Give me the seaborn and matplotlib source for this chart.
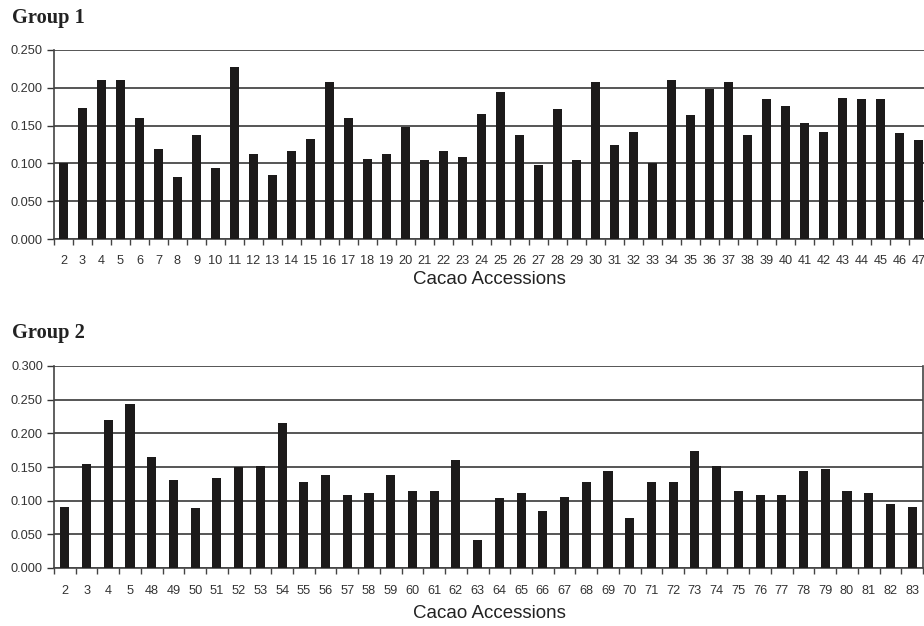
import matplotlib
matplotlib.use("Agg")
import matplotlib.pyplot as plt
import seaborn as sns
import pandas as pd

# Group 1 accessions and values
g1_labels = [str(i) for i in range(2, 48)]
g1_values = [0.101, 0.173, 0.210, 0.210, 0.160, 0.119, 0.082, 0.137, 0.094, 0.228,
             0.112, 0.084, 0.117, 0.132, 0.208, 0.160, 0.106, 0.113, 0.148, 0.104,
             0.117, 0.109, 0.166, 0.195, 0.137, 0.098, 0.172, 0.104, 0.208, 0.125,
             0.141, 0.101, 0.210, 0.164, 0.199, 0.208, 0.138, 0.185, 0.176, 0.153,
             0.141, 0.187, 0.185, 0.185, 0.140, 0.131]

# Group 2 accessions and values
g2_labels = ["2", "3", "4", "5"] + [str(i) for i in range(48, 84)]
g2_values = [0.091, 0.154, 0.220, 0.243, 0.165, 0.130, 0.089, 0.133, 0.150, 0.152,
             0.216, 0.127, 0.138, 0.109, 0.112, 0.138, 0.115, 0.115, 0.160, 0.042,
             0.104, 0.112, 0.085, 0.106, 0.128, 0.144, 0.074, 0.128, 0.127, 0.174,
             0.152, 0.114, 0.109, 0.109, 0.144, 0.147, 0.115, 0.112, 0.095, 0.091]

g1_yticks = [0.0, 0.05, 0.10, 0.15, 0.20, 0.25]
g2_yticks = [0.0, 0.05, 0.10, 0.15, 0.20, 0.25, 0.30]

sns.set_theme(style="white")
plt.rcParams["font.family"] = ["Liberation Sans", "DejaVu Sans"]

W, H = 924, 626
fig = plt.figure(figsize=(W / 100, H / 100), dpi=100)


def px_axes(left, top, right, bottom):
    return fig.add_axes([left / W, 1 - bottom / H, (right - left) / W, (bottom - top) / H])


def draw(ax, labels, values, yticks, width, title, title_y, xlabel_y, xpad):
    df = pd.DataFrame({"acc": labels, "val": values})
    sns.barplot(data=df, x="acc", y="val", order=labels, color="#1c1a1a",
                width=width, saturation=1, ax=ax, zorder=3)
    for p in ax.patches:
        p.set_edgecolor("none")
    n = len(labels)
    ax.set_xlim(-0.5, n - 0.5)
    ax.set_ylim(0, yticks[-1])
    ax.set_yticks(yticks)
    ax.set_yticklabels([f"{t:.3f}" for t in yticks])
    ax.yaxis.grid(True, color="#555555", linewidth=1.4, zorder=0)
    ax.set_axisbelow(True)
    ax.set_xlabel("")
    ax.set_ylabel("")
    ax.tick_params(axis="x", length=0, labelsize=9.2, pad=xpad, colors="#333333")
    ax.tick_params(axis="y", left=True, length=5, width=1, labelsize=9.2,
                   pad=3, colors="#333333")
    # category boundary ticks along the base line
    ax.set_xticks([i - 0.5 for i in range(n + 1)], minor=True)
    ax.tick_params(axis="x", which="minor", bottom=True, length=4, width=1,
                   color="#444444")
    for side in ["left", "right", "bottom"]:
        ax.spines[side].set_visible(True)
        ax.spines[side].set_color("#444444")
        ax.spines[side].set_linewidth(1.2)
    ax.spines["top"].set_visible(False)
    fig.text(489 / W, 1 - xlabel_y / H, "Cacao Accessions", fontsize=13.5,
             color="#222222", ha="center", va="center")
    fig.text(12 / W, 1 - title_y / H, title, fontsize=14.7, fontweight="bold",
             family="Liberation Serif", color="#222222", va="center", ha="left")


ax1 = px_axes(54, 50, 928, 239)
draw(ax1, g1_labels, g1_values, g1_yticks, 0.46, "Group 1", 18, 279, 11.5)

ax2 = px_axes(54, 366, 923, 568)
draw(ax2, g2_labels, g2_values, g2_yticks, 0.42, "Group 2", 333, 613, 12.5)

fig.savefig("out.png", dpi=100)
